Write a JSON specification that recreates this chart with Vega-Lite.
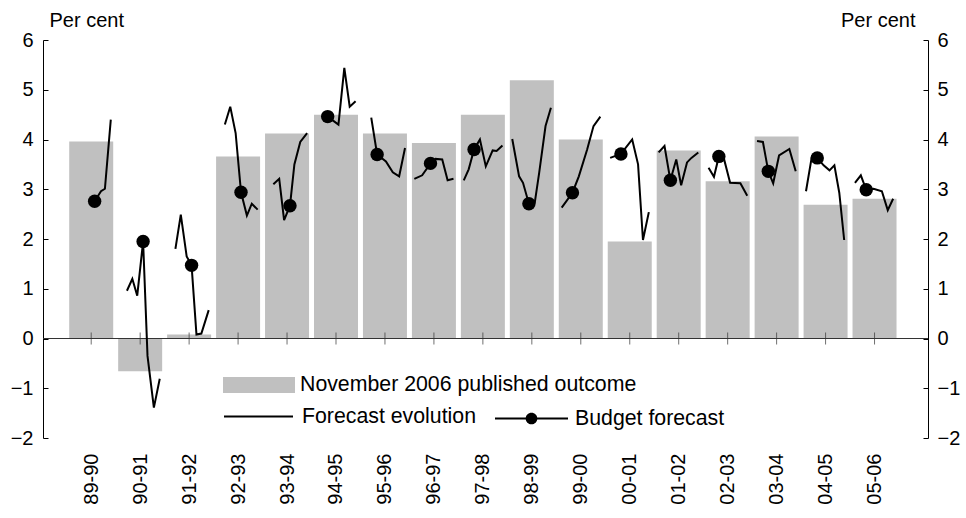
{
  "$schema": "https://vega.github.io/schema/vega-lite/v6.json",
  "width": 885,
  "height": 398,
  "autosize": {"type": "none"},
  "padding": {"left": 43, "top": 40, "right": 38, "bottom": 80},
  "background": "white",
  "config": {
    "font": "Liberation Sans",
    "view": {"stroke": null},
    "axis": {"grid": false},
    "legend": {"padding": 0, "titlePadding": 0}
  },
  "datasets": {
    "bars": [
      {"year": "89-90", "x": 0, "v": 3.96},
      {"year": "90-91", "x": 1, "v": -0.66},
      {"year": "91-92", "x": 2, "v": 0.08},
      {"year": "92-93", "x": 3, "v": 3.66},
      {"year": "93-94", "x": 4, "v": 4.12},
      {"year": "94-95", "x": 5, "v": 4.5},
      {"year": "95-96", "x": 6, "v": 4.12},
      {"year": "96-97", "x": 7, "v": 3.93},
      {"year": "97-98", "x": 8, "v": 4.5},
      {"year": "98-99", "x": 9, "v": 5.19},
      {"year": "99-00", "x": 10, "v": 4.0},
      {"year": "00-01", "x": 11, "v": 1.95},
      {"year": "01-02", "x": 12, "v": 3.78},
      {"year": "02-03", "x": 13, "v": 3.16},
      {"year": "03-04", "x": 14, "v": 4.06},
      {"year": "04-05", "x": 15, "v": 2.69},
      {"year": "05-06", "x": 16, "v": 2.81}
    ],
    "zero": [{"v": 0}],
    "lines": [
      {"year": "89-90", "x": 0.07, "v": 2.76},
      {"year": "89-90", "x": 0.2, "v": 2.96},
      {"year": "89-90", "x": 0.28, "v": 3.01},
      {"year": "89-90", "x": 0.4, "v": 4.4},
      {"year": "90-91", "x": 0.73, "v": 0.96},
      {"year": "90-91", "x": 0.84, "v": 1.2},
      {"year": "90-91", "x": 0.94, "v": 0.86},
      {"year": "90-91", "x": 1.06, "v": 1.95},
      {"year": "90-91", "x": 1.15, "v": -0.35},
      {"year": "90-91", "x": 1.28, "v": -1.39},
      {"year": "90-91", "x": 1.4, "v": -0.81},
      {"year": "91-92", "x": 1.72, "v": 1.8},
      {"year": "91-92", "x": 1.83, "v": 2.49},
      {"year": "91-92", "x": 1.95, "v": 1.65},
      {"year": "91-92", "x": 2.05, "v": 1.47},
      {"year": "91-92", "x": 2.15, "v": 0.08},
      {"year": "91-92", "x": 2.25, "v": 0.1},
      {"year": "91-92", "x": 2.4, "v": 0.57},
      {"year": "92-93", "x": 2.73, "v": 4.3},
      {"year": "92-93", "x": 2.84, "v": 4.66},
      {"year": "92-93", "x": 2.95, "v": 4.13},
      {"year": "92-93", "x": 3.06, "v": 2.94},
      {"year": "92-93", "x": 3.18, "v": 2.47},
      {"year": "92-93", "x": 3.28, "v": 2.71},
      {"year": "92-93", "x": 3.4, "v": 2.59},
      {"year": "93-94", "x": 3.72, "v": 3.1},
      {"year": "93-94", "x": 3.84, "v": 3.21},
      {"year": "93-94", "x": 3.94, "v": 2.38},
      {"year": "93-94", "x": 4.06, "v": 2.67},
      {"year": "93-94", "x": 4.15, "v": 3.5},
      {"year": "93-94", "x": 4.27, "v": 3.95},
      {"year": "93-94", "x": 4.41, "v": 4.13},
      {"year": "94-95", "x": 4.83, "v": 4.46},
      {"year": "94-95", "x": 5.05, "v": 4.3},
      {"year": "94-95", "x": 5.17, "v": 5.44},
      {"year": "94-95", "x": 5.28, "v": 4.66},
      {"year": "94-95", "x": 5.4, "v": 4.77},
      {"year": "95-96", "x": 5.72, "v": 4.44},
      {"year": "95-96", "x": 5.84, "v": 3.7},
      {"year": "95-96", "x": 6.02, "v": 3.56},
      {"year": "95-96", "x": 6.16, "v": 3.34},
      {"year": "95-96", "x": 6.29, "v": 3.26},
      {"year": "95-96", "x": 6.41, "v": 3.83},
      {"year": "96-97", "x": 6.6, "v": 3.21},
      {"year": "96-97", "x": 6.76, "v": 3.28},
      {"year": "96-97", "x": 6.93, "v": 3.52},
      {"year": "96-97", "x": 7.03, "v": 3.61},
      {"year": "96-97", "x": 7.17, "v": 3.6},
      {"year": "96-97", "x": 7.28, "v": 3.18},
      {"year": "96-97", "x": 7.4, "v": 3.21},
      {"year": "97-98", "x": 7.61, "v": 3.18},
      {"year": "97-98", "x": 7.71, "v": 3.4},
      {"year": "97-98", "x": 7.82, "v": 3.8},
      {"year": "97-98", "x": 7.94, "v": 4.0},
      {"year": "97-98", "x": 8.06, "v": 3.46},
      {"year": "97-98", "x": 8.2, "v": 3.78},
      {"year": "97-98", "x": 8.28, "v": 3.77},
      {"year": "97-98", "x": 8.4, "v": 3.88},
      {"year": "98-99", "x": 8.6, "v": 4.01},
      {"year": "98-99", "x": 8.74, "v": 3.26},
      {"year": "98-99", "x": 8.82, "v": 3.13},
      {"year": "98-99", "x": 8.94, "v": 2.71},
      {"year": "98-99", "x": 9.06, "v": 2.73},
      {"year": "98-99", "x": 9.15, "v": 3.33},
      {"year": "98-99", "x": 9.28, "v": 4.27},
      {"year": "98-99", "x": 9.39, "v": 4.64},
      {"year": "99-00", "x": 9.61, "v": 2.63},
      {"year": "99-00", "x": 9.83, "v": 2.93},
      {"year": "99-00", "x": 9.96, "v": 3.26},
      {"year": "99-00", "x": 10.13, "v": 3.8},
      {"year": "99-00", "x": 10.26, "v": 4.27},
      {"year": "99-00", "x": 10.4, "v": 4.46},
      {"year": "00-01", "x": 10.6, "v": 3.63},
      {"year": "00-01", "x": 10.82, "v": 3.71},
      {"year": "00-01", "x": 11.05, "v": 4.0},
      {"year": "00-01", "x": 11.17, "v": 3.5},
      {"year": "00-01", "x": 11.27, "v": 1.98},
      {"year": "00-01", "x": 11.39, "v": 2.54},
      {"year": "01-02", "x": 11.59, "v": 3.74},
      {"year": "01-02", "x": 11.71, "v": 3.87},
      {"year": "01-02", "x": 11.83, "v": 3.18},
      {"year": "01-02", "x": 11.95, "v": 3.6},
      {"year": "01-02", "x": 12.05, "v": 3.08},
      {"year": "01-02", "x": 12.17, "v": 3.54},
      {"year": "01-02", "x": 12.26, "v": 3.63},
      {"year": "01-02", "x": 12.4, "v": 3.74},
      {"year": "02-03", "x": 12.61, "v": 3.43},
      {"year": "02-03", "x": 12.72, "v": 3.25},
      {"year": "02-03", "x": 12.82, "v": 3.66},
      {"year": "02-03", "x": 12.92, "v": 3.63},
      {"year": "02-03", "x": 13.05, "v": 3.13},
      {"year": "02-03", "x": 13.26, "v": 3.12},
      {"year": "02-03", "x": 13.4, "v": 2.87},
      {"year": "03-04", "x": 13.6, "v": 3.97},
      {"year": "03-04", "x": 13.72, "v": 3.95},
      {"year": "03-04", "x": 13.83, "v": 3.36},
      {"year": "03-04", "x": 13.93, "v": 3.12},
      {"year": "03-04", "x": 14.05, "v": 3.68},
      {"year": "03-04", "x": 14.26, "v": 3.81},
      {"year": "03-04", "x": 14.39, "v": 3.36},
      {"year": "04-05", "x": 14.6, "v": 2.96},
      {"year": "04-05", "x": 14.72, "v": 3.66},
      {"year": "04-05", "x": 14.83, "v": 3.63},
      {"year": "04-05", "x": 14.96, "v": 3.48},
      {"year": "04-05", "x": 15.08, "v": 3.38},
      {"year": "04-05", "x": 15.18, "v": 3.48},
      {"year": "04-05", "x": 15.28, "v": 2.93},
      {"year": "04-05", "x": 15.38, "v": 1.98},
      {"year": "05-06", "x": 15.6, "v": 3.13},
      {"year": "05-06", "x": 15.72, "v": 3.28},
      {"year": "05-06", "x": 15.83, "v": 2.99},
      {"year": "05-06", "x": 15.98, "v": 3.01},
      {"year": "05-06", "x": 16.15, "v": 2.96},
      {"year": "05-06", "x": 16.27, "v": 2.58},
      {"year": "05-06", "x": 16.38, "v": 2.81}
    ],
    "dots": [
      {"year": "89-90", "x": 0.07, "v": 2.76},
      {"year": "90-91", "x": 1.06, "v": 1.95},
      {"year": "91-92", "x": 2.05, "v": 1.47},
      {"year": "92-93", "x": 3.06, "v": 2.94},
      {"year": "93-94", "x": 4.06, "v": 2.67},
      {"year": "94-95", "x": 4.83, "v": 4.46},
      {"year": "95-96", "x": 5.84, "v": 3.7},
      {"year": "96-97", "x": 6.93, "v": 3.52},
      {"year": "97-98", "x": 7.82, "v": 3.8},
      {"year": "98-99", "x": 8.94, "v": 2.71},
      {"year": "99-00", "x": 9.83, "v": 2.93},
      {"year": "00-01", "x": 10.82, "v": 3.71},
      {"year": "01-02", "x": 11.83, "v": 3.18},
      {"year": "02-03", "x": 12.82, "v": 3.66},
      {"year": "03-04", "x": 13.83, "v": 3.36},
      {"year": "04-05", "x": 14.83, "v": 3.63},
      {"year": "05-06", "x": 15.83, "v": 2.99}
    ]
  },
  "layer": [
    {
      "data": {"name": "bars"},
      "mark": {"type": "bar", "size": 44, "orient": "vertical", "color": "#c0c0c0"},
      "encoding": {
        "x": {
          "field": "x", "type": "quantitative",
          "scale": {"domain": [-0.8825, 16.99], "nice": false, "zero": false},
          "axis": {
            "orient": "bottom",
            "values": [0, 1, 2, 3, 4, 5, 6, 7, 8, 9, 10, 11, 12, 13, 14, 15, 16],
            "labelExpr": "split('89-90,90-91,91-92,92-93,93-94,94-95,95-96,96-97,97-98,98-99,99-00,00-01,01-02,02-03,03-04,04-05,05-06', ',')[round(datum.value)]",
            "labelAngle": 270, "labelFontSize": 20, "labelColor": "black",
            "labelPadding": 15, "ticks": false, "domain": false, "title": null
          }
        },
        "y": {
          "field": "v", "type": "quantitative",
          "scale": {"domain": [-2, 6], "nice": false},
          "axis": {
            "orient": "left", "values": [-2, -1, 0, 1, 2, 3, 4, 5, 6],
            "tickSize": -5, "tickColor": "black", "domainColor": "black",
            "labelPadding": 15, "labelFontSize": 20, "labelColor": "black",
            "labelFlush": false, "labelOverlap": false,
            "title": "Per cent", "titleAngle": 0, "titleAlign": "left",
            "titleBaseline": "alphabetic", "titleX": 6, "titleY": -14,
            "titleFontSize": 20, "titleFontWeight": "normal", "titleColor": "black"
          }
        },
        "fill": {
          "datum": "November 2006 published outcome", "type": "nominal",
          "scale": {"range": ["#c0c0c0"]},
          "legend": {
            "orient": "none", "legendX": 180, "legendY": 309, "title": null,
            "symbolType": "M-1,-0.222H1V0.222H-1Z", "symbolSize": 5184,
            "symbolStrokeWidth": 0, "labelFontSize": 21.3, "labelColor": "black",
            "labelOffset": 5, "labelLimit": 600
          }
        }
      }
    },
    {
      "data": {"name": "zero"},
      "mark": {"type": "rule", "color": "#333333", "strokeWidth": 1},
      "encoding": {
        "y": {
          "field": "v", "type": "quantitative",
          "axis": {
            "orient": "right", "values": [-2, -1, 0, 1, 2, 3, 4, 5, 6],
            "tickSize": -5, "tickColor": "black", "domainColor": "black",
            "labelPadding": 14, "labelFontSize": 20, "labelColor": "black",
            "labelFlush": false, "labelOverlap": false,
            "title": "Per cent", "titleAngle": 0, "titleAlign": "right",
            "titleBaseline": "alphabetic", "titleX": -13, "titleY": -14,
            "titleFontSize": 20, "titleFontWeight": "normal", "titleColor": "black"
          }
        }
      }
    },
    {
      "data": {"name": "bars"},
      "mark": {"type": "tick", "orient": "vertical", "size": 12, "thickness": 1, "color": "#333333"},
      "encoding": {
        "x": {"field": "x", "type": "quantitative"},
        "y": {"datum": 0, "type": "quantitative", "axis": null}
      }
    },
    {
      "data": {"name": "lines"},
      "mark": {"type": "line", "strokeWidth": 2},
      "encoding": {
        "x": {"field": "x", "type": "quantitative"},
        "y": {"field": "v", "type": "quantitative", "axis": null},
        "detail": {"field": "year"},
        "stroke": {
          "datum": "Forecast evolution", "type": "nominal",
          "scale": {"range": ["black"]},
          "legend": {
            "orient": "none", "legendX": 180, "legendY": 341, "title": null,
            "symbolType": "stroke", "symbolSize": 4761, "symbolStrokeWidth": 2,
            "labelFontSize": 21.3, "labelColor": "black", "labelOffset": 8, "labelLimit": 600
          }
        }
      }
    },
    {
      "data": {"name": "dots"},
      "mark": {"type": "point", "filled": true, "size": 180, "color": "black", "opacity": 1},
      "encoding": {
        "x": {"field": "x", "type": "quantitative"},
        "y": {"field": "v", "type": "quantitative", "axis": null}
      }
    },
    {
      "data": {"values": []},
      "mark": {"type": "point", "filled": true, "color": "black", "opacity": 1},
      "encoding": {
        "shape": {
          "datum": "Budget forecast", "type": "nominal",
          "scale": {"range": ["M-1,-0.0274H1V0.0274H-1ZM-0.16,0A0.16,0.16,0,1,1,0.16,0A0.16,0.16,0,1,1,-0.16,0Z"]},
          "legend": {
            "orient": "none", "legendX": 451, "legendY": 341, "title": null,
            "symbolSize": 5329, "symbolFillColor": "black", "symbolOpacity": 1,
            "labelFontSize": 21.3, "labelColor": "black",
            "labelOffset": 6, "labelLimit": 600
          }
        }
      }
    }
  ],
  "resolve": {"axis": {"y": "independent"}}
}
